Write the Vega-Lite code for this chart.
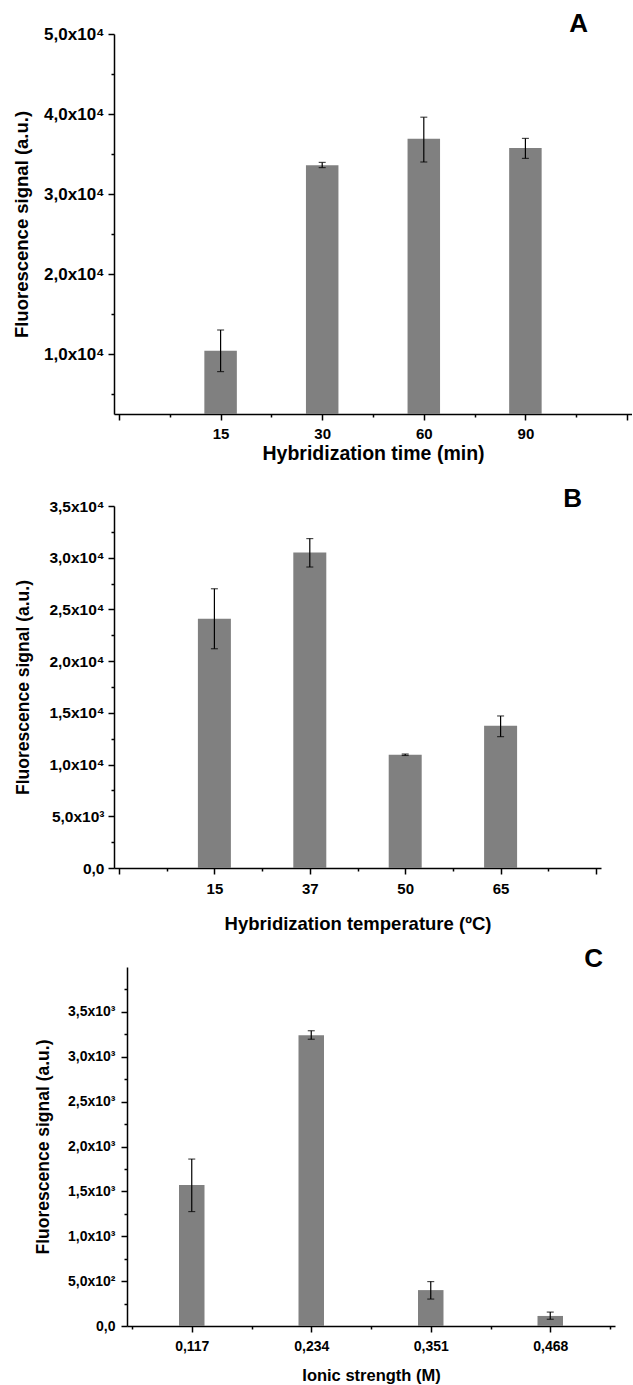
{
  "$schema": "https://vega.github.io/schema/vega-lite/v6.json",
  "padding": {"left": 12, "top": 11, "right": 0, "bottom": 0},
  "autosize": {"type": "pad"},
  "background": "white",
  "spacing": 13,
  "config": {
    "view": {"stroke": null},
    "font": "Liberation Sans",
    "axis": {
      "domainColor": "black", "tickColor": "black", "domainWidth": 1.5, "tickWidth": 1.5,
      "labelFont": "Liberation Sans", "labelFontWeight": "bold", "labelFontSize": 14, "labelColor": "black",
      "titleFont": "Liberation Sans", "titleFontWeight": "bold", "titleColor": "black",
      "grid": false, "labelFlush": false, "labelOverlap": false
    },
    "title": {"font": "Liberation Sans", "fontWeight": "bold", "color": "black", "fontSize": 26}
  },
  "datasets": {
    "a": [
      {"pos": 1, "label": "15", "v": 10400, "lo": 7800, "hi": 13000},
      {"pos": 2, "label": "30", "v": 33600, "lo": 33300, "hi": 33950},
      {"pos": 3, "label": "60", "v": 36900, "lo": 34000, "hi": 39600},
      {"pos": 4, "label": "90", "v": 35750, "lo": 34450, "hi": 36950}
    ],
    "b": [
      {"pos": 1, "label": "15", "v": 24100, "lo": 21200, "hi": 27000},
      {"pos": 2, "label": "37", "v": 30500, "lo": 29100, "hi": 31850},
      {"pos": 3, "label": "50", "v": 10950, "lo": 10880, "hi": 11020},
      {"pos": 4, "label": "65", "v": 13750, "lo": 12700, "hi": 14700}
    ],
    "c": [
      {"pos": 1, "label": "0,117", "v": 1570, "lo": 1275, "hi": 1860},
      {"pos": 2, "label": "0,234", "v": 3240, "lo": 3195, "hi": 3290},
      {"pos": 3, "label": "0,351", "v": 400, "lo": 300, "hi": 495},
      {"pos": 4, "label": "0,468", "v": 112, "lo": 75, "hi": 155}
    ]
  },
  "vconcat": [
    {
      "width": 518, "height": 380,
      "title": {"text": "A", "anchor": "end", "dx": -44, "dy": 12, "offset": 0},
      "data": {"name": "a"},
      "layer": [
        {
          "mark": {"type": "bar", "width": 32.5, "color": "#808080", "clip": true},
          "encoding": {
            "x": {"field": "pos", "type": "quantitative", "scale": {"domain": [0, 5], "nice": false},
              "axis": {"values": [0, 1, 2, 3, 4, 5], "labelExpr": "['','15','30','60','90',''][datum.value]", "tickSize": 6, "labelPadding": 6, "labelFontSize": 15, "title": ["Hybridization time (min)", " "], "titleLineHeight": 10, "titleFontSize": 19.5, "titlePadding": 3}},
            "y": {"field": "v", "type": "quantitative", "scale": {"domain": [2500, 50000], "nice": false, "zero": false},
              "axis": {"values": [10000, 20000, 30000, 40000, 50000], "labelExpr": "replace(format(datum.value/10000,'.1f'),'.',',') + 'x10⁴'", "tickSize": 6, "labelPadding": 4, "labelFontSize": 17, "title": "Fluorescence signal (a.u.)", "titleFontSize": 18.5, "titlePadding": 12}}
          }
        },
        {
          "mark": {"type": "rule", "color": "black", "strokeWidth": 1.2},
          "encoding": {
            "x": {"field": "pos", "type": "quantitative", "axis": {"orient": "bottom", "values": [0.5, 1.5, 2.5, 3.5, 4.5], "labels": false, "tickSize": 3, "domain": false, "title": null}},
            "y": {"field": "lo", "type": "quantitative", "axis": {"orient": "left", "values": [5000, 15000, 25000, 35000, 45000], "labels": false, "tickSize": 3, "domain": false, "title": null}},
            "y2": {"field": "hi"}
          }
        },
        {
          "mark": {"type": "tick", "orient": "horizontal", "color": "black", "size": 7, "thickness": 1.2},
          "encoding": {"x": {"field": "pos", "type": "quantitative", "axis": null}, "y": {"field": "lo", "type": "quantitative", "axis": null}}
        },
        {
          "mark": {"type": "tick", "orient": "horizontal", "color": "black", "size": 7, "thickness": 1.2},
          "encoding": {"x": {"field": "pos", "type": "quantitative", "axis": null}, "y": {"field": "hi", "type": "quantitative", "axis": null}}
        }
      ],
      "resolve": {"axis": {"x": "independent", "y": "independent"}}
    },
    {
      "width": 487, "height": 362,
      "title": {"text": "B", "anchor": "end", "dx": -19, "dy": 13, "offset": 0},
      "data": {"name": "b"},
      "layer": [
        {
          "mark": {"type": "bar", "width": 33, "color": "#808080", "clip": true},
          "encoding": {
            "x": {"field": "pos", "type": "quantitative", "scale": {"domain": [0, 5], "nice": false},
              "axis": {"values": [0, 1, 2, 3, 4, 5], "labelExpr": "['','15','37','50','65',''][datum.value]", "tickSize": 6, "labelPadding": 7, "labelFontSize": 15, "title": "Hybridization temperature (ºC)", "titleFontSize": 18.5, "titlePadding": 18}},
            "y": {"field": "v", "type": "quantitative", "scale": {"domain": [0, 35000], "nice": false},
              "axis": {"values": [0, 5000, 10000, 15000, 20000, 25000, 30000, 35000], "labelExpr": "datum.value == 0 ? '0,0' : datum.value < 10000 ? replace(format(datum.value/1000,'.1f'),'.',',') + 'x10³' : replace(format(datum.value/10000,'.1f'),'.',',') + 'x10⁴'", "tickSize": 6, "labelPadding": 4, "labelFontSize": 15.5, "title": "Fluorescence signal (a.u.)", "titleFontSize": 17.5, "titlePadding": 16}}
          }
        },
        {
          "mark": {"type": "rule", "color": "black", "strokeWidth": 1.2},
          "encoding": {
            "x": {"field": "pos", "type": "quantitative", "axis": {"orient": "bottom", "values": [0.5, 1.5, 2.5, 3.5, 4.5], "labels": false, "tickSize": 3, "domain": false, "title": null}},
            "y": {"field": "lo", "type": "quantitative", "axis": {"orient": "left", "values": [2500, 7500, 12500, 17500, 22500, 27500, 32500], "labels": false, "tickSize": 3, "domain": false, "title": null}},
            "y2": {"field": "hi"}
          }
        },
        {
          "mark": {"type": "tick", "orient": "horizontal", "color": "black", "size": 7, "thickness": 1.2},
          "encoding": {"x": {"field": "pos", "type": "quantitative", "axis": null}, "y": {"field": "lo", "type": "quantitative", "axis": null}}
        },
        {
          "mark": {"type": "tick", "orient": "horizontal", "color": "black", "size": 7, "thickness": 1.2},
          "encoding": {"x": {"field": "pos", "type": "quantitative", "axis": null}, "y": {"field": "hi", "type": "quantitative", "axis": null}}
        }
      ],
      "resolve": {"axis": {"x": "independent", "y": "independent"}}
    },
    {
      "width": 501, "height": 359,
      "title": {"text": "C", "anchor": "end", "dx": -12, "dy": 5, "offset": 0},
      "data": {"name": "c"},
      "layer": [
        {
          "mark": {"type": "bar", "width": 25.5, "color": "#808080", "clip": true},
          "encoding": {
            "x": {"field": "pos", "type": "quantitative", "scale": {"domain": [0.5, 4.5], "nice": false, "range": [13, 501]},
              "axis": {"values": [1, 2, 3, 4], "labelExpr": "['','0,117','0,234','0,351','0,468'][datum.value]", "tickSize": 6, "labelPadding": 7, "labelFontSize": 14, "title": "Ionic strength (M)", "titleFontSize": 16.5, "titlePadding": 14}},
            "y": {"field": "v", "type": "quantitative", "scale": {"domain": [0, 4000], "nice": false},
              "axis": {"offset": -13, "values": [0, 500, 1000, 1500, 2000, 2500, 3000, 3500], "labelExpr": "datum.value == 0 ? '0,0' : datum.value < 1000 ? replace(format(datum.value/100,'.1f'),'.',',') + 'x10²' : replace(format(datum.value/1000,'.1f'),'.',',') + 'x10³'", "tickSize": 6, "labelPadding": 6, "labelFontSize": 14, "title": "Fluorescence signal (a.u.)", "titleFontSize": 17.5, "titlePadding": 15.5}}
          }
        },
        {
          "mark": {"type": "rule", "color": "black", "strokeWidth": 1.2},
          "encoding": {
            "x": {"field": "pos", "type": "quantitative", "axis": {"orient": "bottom", "values": [0.5, 1.5, 2.5, 3.5, 4.5], "labels": false, "tickSize": 3, "domain": false, "title": null}},
            "y": {"field": "lo", "type": "quantitative", "axis": {"orient": "left", "offset": -13, "values": [250, 750, 1250, 1750, 2250, 2750, 3250, 3750], "labels": false, "tickSize": 3, "domain": false, "title": null}},
            "y2": {"field": "hi"}
          }
        },
        {
          "mark": {"type": "tick", "orient": "horizontal", "color": "black", "size": 7, "thickness": 1.2},
          "encoding": {"x": {"field": "pos", "type": "quantitative", "axis": null}, "y": {"field": "lo", "type": "quantitative", "axis": null}}
        },
        {
          "mark": {"type": "tick", "orient": "horizontal", "color": "black", "size": 7, "thickness": 1.2},
          "encoding": {"x": {"field": "pos", "type": "quantitative", "axis": null}, "y": {"field": "hi", "type": "quantitative", "axis": null}}
        }
      ],
      "resolve": {"axis": {"x": "independent", "y": "independent"}}
    }
  ]
}
